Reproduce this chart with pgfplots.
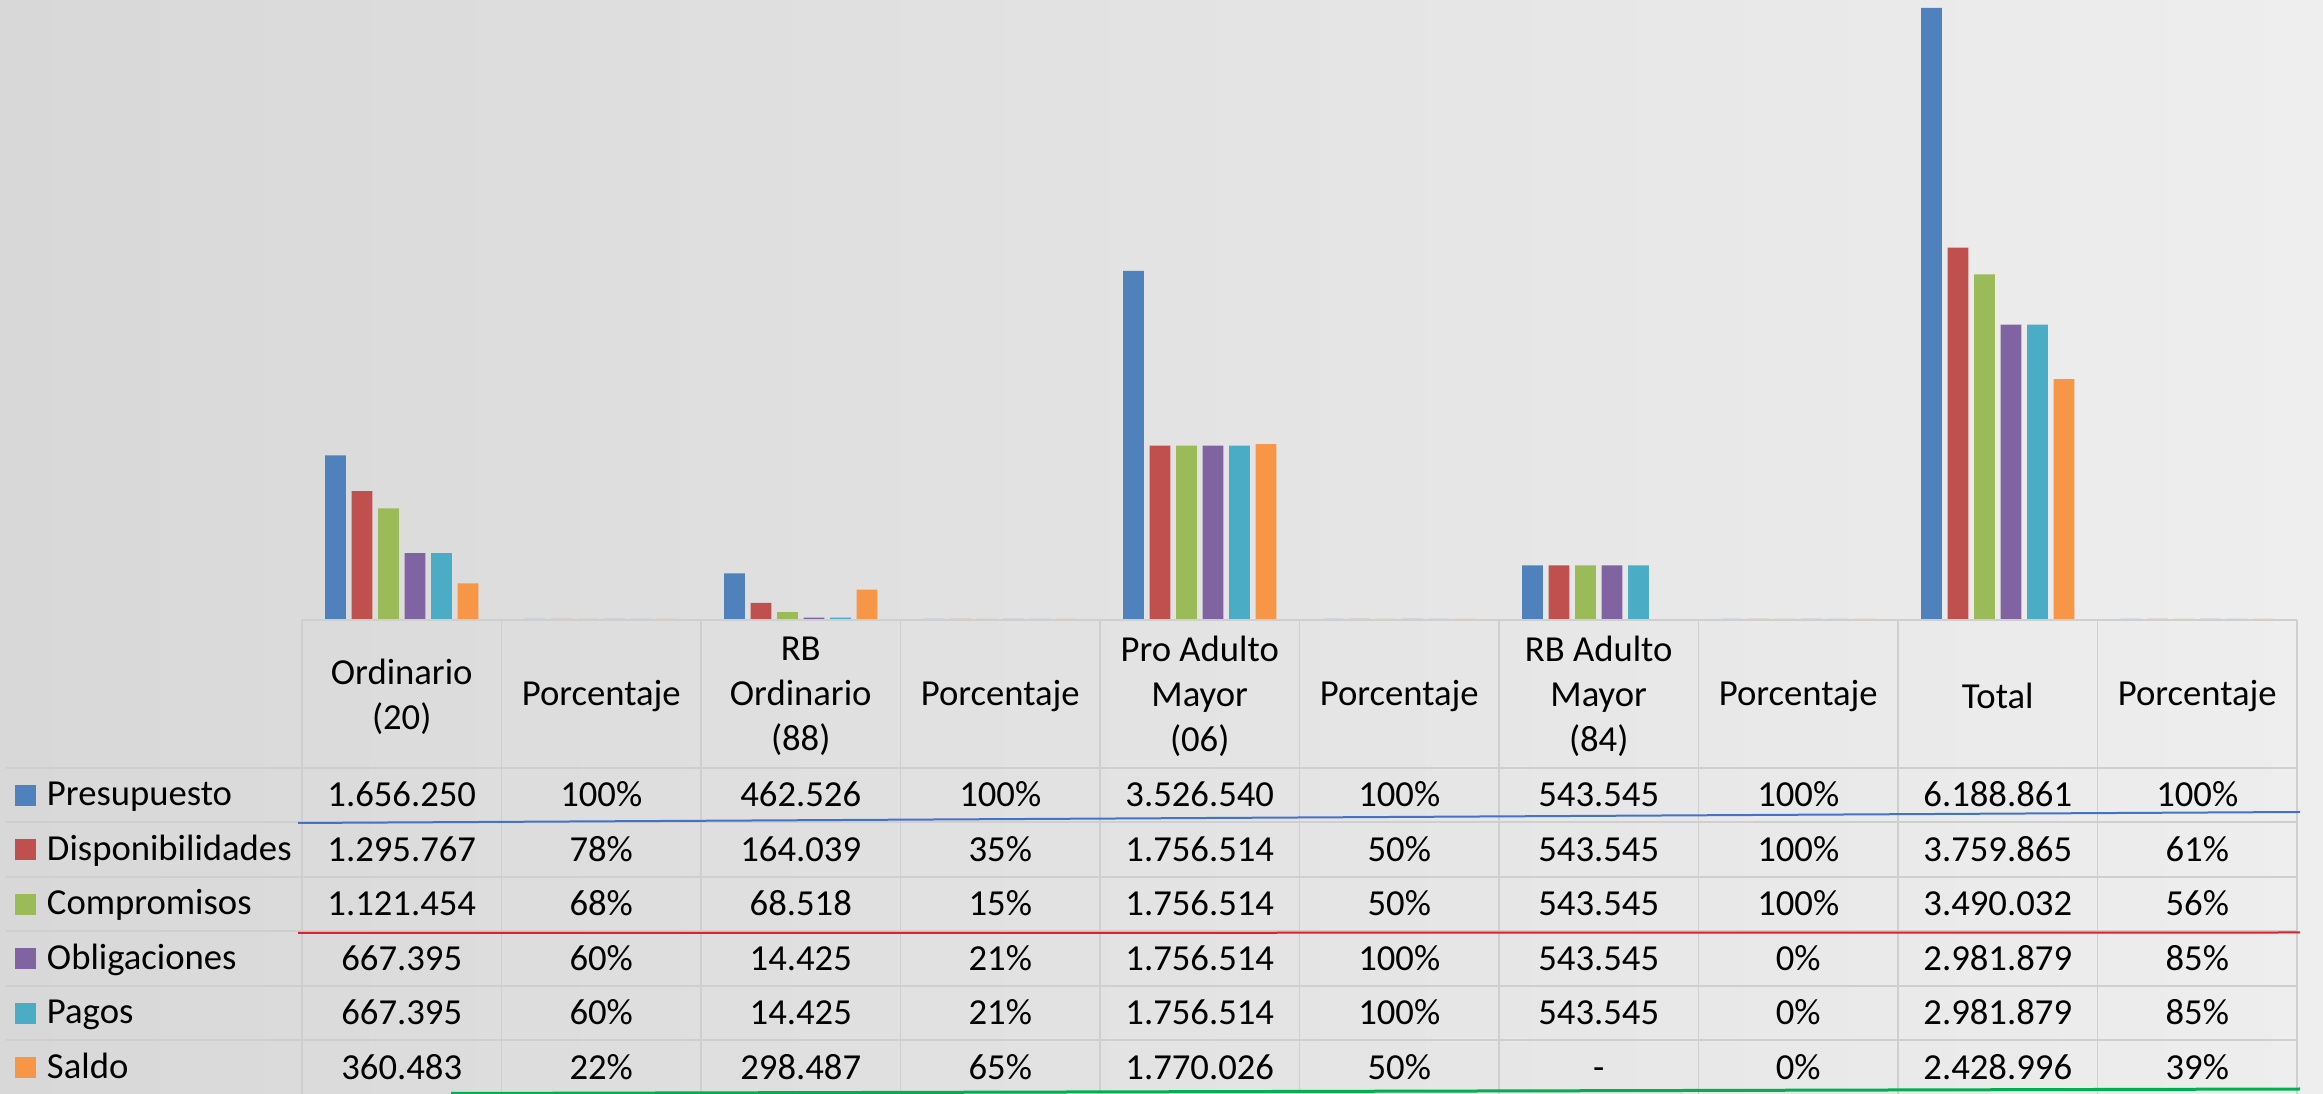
\documentclass[border=0pt]{standalone}
\usepackage{pgfplots}
\pgfplotsset{compat=1.18}
\usepackage{fontspec}
\setmainfont{Carlito}
\definecolor{cPres}{HTML}{4F81BD}
\definecolor{cDisp}{HTML}{C0504D}
\definecolor{cComp}{HTML}{9BBB59}
\definecolor{cObl}{HTML}{8064A2}
\definecolor{cPag}{HTML}{4BACC6}
\definecolor{cSal}{HTML}{F79646}
\definecolor{bgL}{HTML}{D8D8D8}
\definecolor{bgR}{HTML}{EEEEEE}
\definecolor{gridc}{HTML}{CFCFCF}
\definecolor{annBlue}{HTML}{4472C4}
\definecolor{annRed}{HTML}{E0202A}
\definecolor{annGreen}{HTML}{00B050}
\pgfplotsset{sqleg/.style={legend image code/.code={\fill[##1] (0pt,-3.15pt) rectangle (6.3pt,3.15pt);}}}

\begin{document}
\begin{tikzpicture}
\shade[left color=bgL, right color=bgR] (-90.6pt,-142.5pt) rectangle (606.3pt,185.7pt);
\begin{scope}[x=0.3pt,y=-0.3pt,xshift=-90.6pt,yshift=185.7pt]
 \foreach \yy in {768,822,877,931,986,1040} \draw[gridc, line width=0.5pt] (6,\yy) -- (2297,\yy);
 \draw[gridc, line width=0.8pt] (302,620) -- (2297,620);
 \foreach \k in {0,...,10} \draw[gridc, line width=0.5pt] ({302+199.5*\k},620) -- ({302+199.5*\k},1094);
\end{scope}
\begin{axis}[
 scale only axis, width=598.5pt, height=185.7pt,
 xmin=-0.5, xmax=9.5, ymin=0, ymax=6269000,
 axis line style={draw=none}, tick style={draw=none},
 ytick=\empty,
 xtick={0,...,9},
 xticklabels={{Ordinario\\(20)},Porcentaje,{RB\\Ordinario\\(88)},Porcentaje,{Pro Adulto\\Mayor\\(06)},Porcentaje,{RB Adulto\\Mayor\\(84)},Porcentaje,Total,Porcentaje},
 xticklabel style={align=center, anchor=center, yshift=-23.2pt, font=\fontsize{11}{13.5}\selectfont, text=black},
 bar width=0.1038,
 legend style={at={(axis description cs:-0.14386,-0.2407)}, anchor=north west, draw=none, fill=none, inner sep=0pt, outer sep=0pt, row sep=0pt, column sep=3.3pt, font=\fontsize{11}{13}\selectfont, nodes={inner sep=0pt, text height=11.325pt, text depth=5.025pt}},
 legend cell align=left,
]
\addplot[ybar, fill=cPres, draw=none, bar shift=-0.332, sqleg] coordinates {(0,1656250) (1,1) (2,462526) (3,1) (4,3526540) (5,1) (6,543545) (7,1) (8,6188861) (9,1)};
\addlegendentry{Presupuesto}
\addplot[ybar, fill=cDisp, draw=none, bar shift=-0.1992, sqleg] coordinates {(0,1295767) (1,0.78) (2,164039) (3,0.35) (4,1756514) (5,0.50) (6,543545) (7,1) (8,3759865) (9,0.61)};
\addlegendentry{Disponibilidades}
\addplot[ybar, fill=cComp, draw=none, bar shift=-0.0664, sqleg] coordinates {(0,1121454) (1,0.68) (2,68518) (3,0.15) (4,1756514) (5,0.50) (6,543545) (7,1) (8,3490032) (9,0.56)};
\addlegendentry{Compromisos}
\addplot[ybar, fill=cObl, draw=none, bar shift=0.0664, sqleg] coordinates {(0,667395) (1,0.60) (2,14425) (3,0.21) (4,1756514) (5,1) (6,543545) (7,0) (8,2981879) (9,0.85)};
\addlegendentry{Obligaciones}
\addplot[ybar, fill=cPag, draw=none, bar shift=0.1992, sqleg] coordinates {(0,667395) (1,0.60) (2,14425) (3,0.21) (4,1756514) (5,1) (6,543545) (7,0) (8,2981879) (9,0.85)};
\addlegendentry{Pagos}
\addplot[ybar, fill=cSal, draw=none, bar shift=0.332, sqleg] coordinates {(0,360483) (1,0.22) (2,298487) (3,0.65) (4,1770026) (5,0.50) (7,0) (8,2428996) (9,0.39)};
\addlegendentry{Saldo}
\end{axis}
\begin{scope}[x=0.3pt,y=-0.3pt,xshift=-90.6pt,yshift=185.7pt, every node/.style={font=\fontsize{11}{13}\selectfont, inner sep=0pt, anchor=base}]
 \foreach \v [count=\i from 0] in {1.656.250,100\%,462.526,100\%,3.526.540,100\%,543.545,100\%,6.188.861,100\%} \node at ({401.75+199.5*\i},807) {\v};
 \foreach \v [count=\i from 0] in {1.295.767,78\%,164.039,35\%,1.756.514,50\%,543.545,100\%,3.759.865,61\%} \node at ({401.75+199.5*\i},861.5) {\v};
 \foreach \v [count=\i from 0] in {1.121.454,68\%,68.518,15\%,1.756.514,50\%,543.545,100\%,3.490.032,56\%} \node at ({401.75+199.5*\i},916) {\v};
 \foreach \v [count=\i from 0] in {667.395,60\%,14.425,21\%,1.756.514,100\%,543.545,0\%,2.981.879,85\%} \node at ({401.75+199.5*\i},970.5) {\v};
 \foreach \v [count=\i from 0] in {667.395,60\%,14.425,21\%,1.756.514,100\%,543.545,0\%,2.981.879,85\%} \node at ({401.75+199.5*\i},1025) {\v};
 \foreach \v [count=\i from 0] in {360.483,22\%,298.487,65\%,1.770.026,50\%,-,0\%,2.428.996,39\%} \node at ({401.75+199.5*\i},1079.5) {\v};
 \draw[annBlue, line width=0.6pt] (298,823) -- (2300,812);
 \draw[annRed, line width=0.6pt] (298,933) -- (2300,932.5);
 \draw[annGreen, line width=0.9pt] (451,1093.5) -- (2300,1089);
\end{scope}
\pgfresetboundingbox
\path (-90.6pt,-142.5pt) rectangle (606.3pt,185.7pt);
\end{tikzpicture}
\end{document}
